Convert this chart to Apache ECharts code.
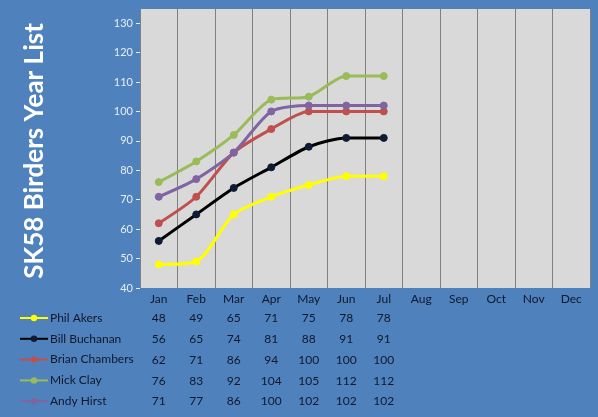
<!DOCTYPE html>
<html>
<head>
    <meta charset="utf-8">
    <script src="https://cdn.jsdelivr.net/npm/echarts@6/dist/echarts.min.js"></script>
    <style>
        html, body { margin: 0; padding: 0; background: #4F81BD; }
    </style>
</head>
<body>
    <div id="main" style="width: 598px;height:417px;"></div>
    <script type="text/javascript">
        // data
        var months = ['Jan', 'Feb', 'Mar', 'Apr', 'May', 'Jun', 'Jul', 'Aug', 'Sep', 'Oct', 'Nov', 'Dec'];
        var names = ['Phil Akers', 'Bill Buchanan', 'Brian Chambers', 'Mick Clay', 'Andy Hirst'];
        var philAkers = [48, 49, 65, 71, 75, 78, 78];
        var billBuchanan = [56, 65, 74, 81, 88, 91, 91];
        var brianChambers = [62, 71, 86, 94, 100, 100, 100];
        var mickClay = [76, 83, 92, 104, 105, 112, 112];
        var andyHirst = [71, 77, 86, 100, 102, 102, 102];
        var yTicks = [40, 130, 10]; // min, last labelled tick, step

        var allData = [philAkers, billBuchanan, brianChambers, mickClay, andyHirst];
        var colors = ['#FFFF00', '#000000', '#C0504D', '#9BBB59', '#8064A2'];
        var symbolColors = ['#FFFF00', '#0F1B33', '#C0504D', '#9BBB59', '#8064A2'];
        var textDark = '#10182A';
        var font = 'Lato';

        var myChart = echarts.init(document.getElementById('main'));

        // main axis + one hidden axis per data table row
        var xAxes = [{
            type: 'category',
            data: months,
            boundaryGap: true,
            axisLine: { show: false },
            axisTick: { show: false },
            axisLabel: { interval: 0, color: textDark, fontFamily: font, fontSize: 12, margin: 5 },
            splitLine: { show: true, interval: 0, lineStyle: { color: '#7F7F7F', width: 1 } }
        }];
        var rowOffsets = [19, 40, 61, 82, 102];
        allData.forEach(function (vals, k) {
            xAxes.push({
                type: 'category',
                data: months,
                position: 'bottom',
                offset: rowOffsets[k],
                axisLine: { show: false },
                axisTick: { show: false },
                splitLine: { show: false },
                axisLabel: {
                    interval: 0, color: textDark, fontFamily: font, fontSize: 12, margin: 5,
                    formatter: function (v, i) { return vals[i] !== undefined ? String(vals[i]) : ''; }
                }
            });
        });

        var series = names.map(function (n, k) {
            return {
                name: n,
                type: 'line',
                data: allData[k],
                smooth: 0.25,
                symbol: 'circle',
                symbolSize: 7,
                lineStyle: { color: colors[k], width: 3 },
                itemStyle: { color: symbolColors[k], borderColor: symbolColors[k] },
                emphasis: { disabled: true }
            };
        });

        myChart.setOption({
            backgroundColor: '#4F81BD',
            animation: false,
            textStyle: { fontFamily: font },
            grid: {
                left: 140, right: 8, top: 9, bottom: 129,
                show: true, backgroundColor: '#D9D9D9', borderWidth: 0
            },
            graphic: [{
                type: 'text',
                x: 35, y: 151,
                rotation: Math.PI / 2,
                style: {
                    text: 'SK58 Birders Year List',
                    fill: '#FFFFFF',
                    font: 'bold 26px Lato',
                    textAlign: 'center',
                    textVerticalAlign: 'middle'
                }
            }],
            legend: {
                orient: 'vertical',
                left: 19, top: 311, padding: 0, height: 104,
                itemWidth: 28, itemHeight: 8, itemGap: 6.8,
                data: names,
                textStyle: { color: textDark, fontFamily: font, fontSize: 12, lineHeight: 14, padding: [0, 0, 0, -3] }
            },
            xAxis: xAxes,
            yAxis: {
                type: 'value',
                min: yTicks[0],
                max: 134.8,
                interval: yTicks[2],
                axisLine: { show: false },
                axisTick: { show: true, length: 4, lineStyle: { color: '#E6EEF8' } },
                axisLabel: {
                    color: '#E6EEF8', fontFamily: font, fontSize: 11, margin: 7,
                    showMaxLabel: false,
                    formatter: function (v) { return v <= yTicks[1] ? String(v) : ''; }
                },
                splitLine: { show: false }
            },
            series: series
        });
    </script>
</body>
</html>
